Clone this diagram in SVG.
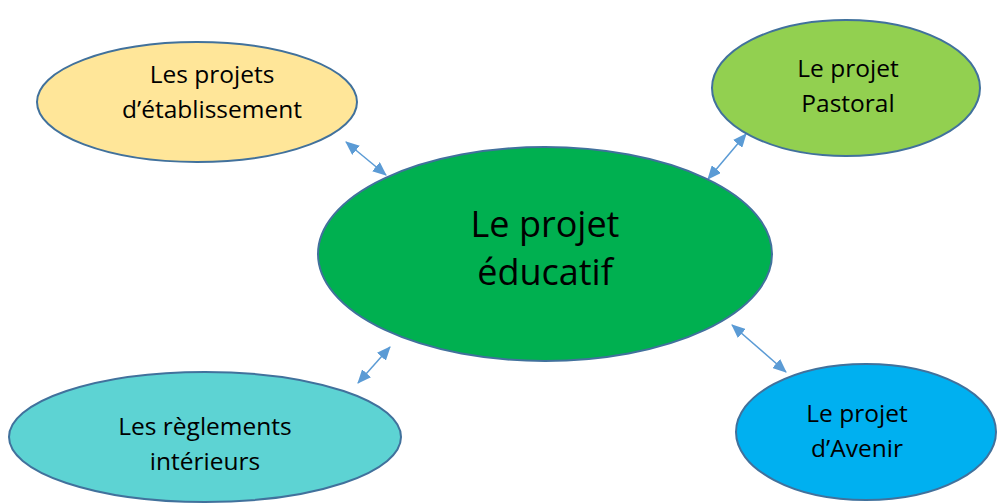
<svg xmlns="http://www.w3.org/2000/svg" width="997" height="504" viewBox="0 0 997 504">
<defs>
<style>
.n{stroke:#41719c;stroke-width:2}
.t{font-family:"Open Sans","Liberation Sans",sans-serif;fill:#000;text-anchor:middle}
.s{font-size:24.5px}
.b{font-size:36px}
.c{stroke:#5b9bd5;stroke-width:1.5;fill:none;marker-start:url(#a);marker-end:url(#a)}
</style>
<marker id="a" viewBox="0 0 14 12" refX="13" refY="6" markerWidth="14" markerHeight="12" markerUnits="userSpaceOnUse" orient="auto-start-reverse">
<path d="M0,0 L14,6 L0,12 z" fill="#5b9bd5"/>
</marker>
</defs>
<rect width="997" height="504" fill="#fff"/>
<g id="connectors">
<line class="c" x1="346" y1="142" x2="386" y2="175"/>
<line class="c" x1="746" y1="134" x2="708" y2="179"/>
<line class="c" x1="390" y1="347" x2="358" y2="383"/>
<line class="c" x1="732" y1="325" x2="786" y2="372"/>
</g>
<g id="n1">
<ellipse class="n" cx="197" cy="102" rx="160" ry="60" fill="#ffe699"/>
<text class="t s" x="212" y="83">Les projets</text>
<text class="t s" x="212" y="118">d’établissement</text>
</g>
<g id="n2">
<ellipse class="n" cx="846" cy="88" rx="134" ry="68" fill="#92d050"/>
<text class="t s" x="848" y="77">Le projet</text>
<text class="t s" x="848" y="112">Pastoral</text>
</g>
<g id="n0">
<ellipse class="n" cx="545" cy="254" rx="227" ry="107" fill="#00b050"/>
<text class="t b" x="545" y="237">Le projet</text>
<text class="t b" x="545" y="285">éducatif</text>
</g>
<g id="n3">
<ellipse class="n" cx="205" cy="437" rx="196" ry="65" fill="#5dd3d3"/>
<text class="t s" x="205" y="435">Les règlements</text>
<text class="t s" x="205" y="470">intérieurs</text>
</g>
<g id="n4">
<ellipse class="n" cx="866" cy="432" rx="130" ry="68" fill="#00b0f0"/>
<text class="t s" x="857" y="422">Le projet</text>
<text class="t s" x="857" y="457">d’Avenir</text>
</g>
</svg>
